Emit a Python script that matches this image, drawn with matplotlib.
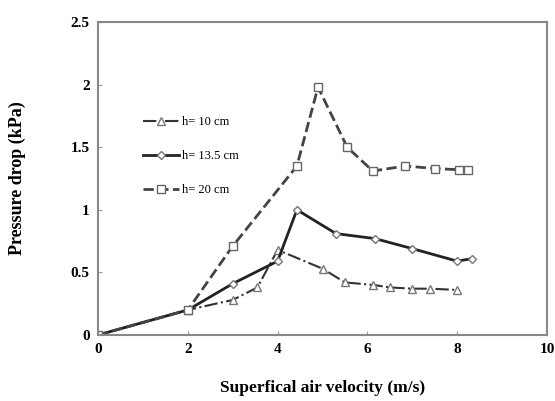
import numpy as np
import matplotlib.pyplot as plt

# h = 10 cm (open triangles, dash-dot)
x10 = [0, 2, 3.0, 3.55, 4.0, 5.0, 5.5, 6.13, 6.5, 7.0, 7.4, 8.0]
y10 = [0, 0.2, 0.28, 0.38, 0.68, 0.53, 0.42, 0.40, 0.38, 0.37, 0.37, 0.36]

# h = 13.5 cm (diamonds, solid)
x13 = [0, 2, 3.0, 4.0, 4.43, 5.3, 6.17, 7.0, 8.0, 8.33]
y13 = [0, 0.2, 0.41, 0.59, 1.0, 0.81, 0.77, 0.69, 0.59, 0.61]

# h = 20 cm (open squares, dashed)
x20 = [0, 2, 3.0, 4.43, 4.9, 5.55, 6.12, 6.84, 7.5, 8.05, 8.25]
y20 = [0, 0.2, 0.71, 1.35, 1.98, 1.5, 1.31, 1.35, 1.33, 1.32, 1.32]

labels = ["h= 10 cm", "h= 13.5 cm", "h= 20 cm"]

plt.rcParams["font.family"] = ["Liberation Serif", "DejaVu Serif"]

fig = plt.figure(figsize=(5.55, 4.01), dpi=100)
ax = fig.add_axes([0.1766, 0.1646, 0.809, 0.7804])

ax.plot(x10, y10, linestyle="-.", color="#333333", lw=1.5, marker="^", ms=5.5,
        mfc="white", mec="#777777", label=labels[0])
ax.plot(x13, y13, linestyle="-", color="#222222", lw=2, marker="D", ms=4.5,
        mfc="white", mec="#777777", label=labels[1])
ax.plot(x20, y20, linestyle="--", color="#444444", lw=2, marker="s", ms=5.5,
        mfc="white", mec="#666666", label=labels[2])

ax.set_xlim(0, 10)
ax.set_ylim(0, 2.5)
ax.set_xticks([0, 2, 4, 6, 8, 10])
ax.set_yticks([0, 0.5, 1, 1.5, 2, 2.5])
ax.set_yticklabels(["0", "0.5", "1", "1.5", "2", "2.5"])
ax.tick_params(direction="in", length=3, color="#999999", labelsize=11, pad=6)
for lab in ax.get_xticklabels() + ax.get_yticklabels():
    lab.set_fontweight("bold")
for sp in ax.spines.values():
    sp.set_color("#888888")
    sp.set_linewidth(1.5)

ax.set_xlabel("Superfical air velocity (m/s)", fontsize=12.5, fontweight="bold", labelpad=17)
ax.set_ylabel("Pressure drop (kPa)", fontsize=13, fontweight="bold", labelpad=32)

ax.legend(loc="upper left", bbox_to_anchor=(0.075, 0.735), frameon=False,
          fontsize=9, handlelength=2.9, labelspacing=1.75, handletextpad=0.2)

fig.savefig("out.png", dpi=100)
